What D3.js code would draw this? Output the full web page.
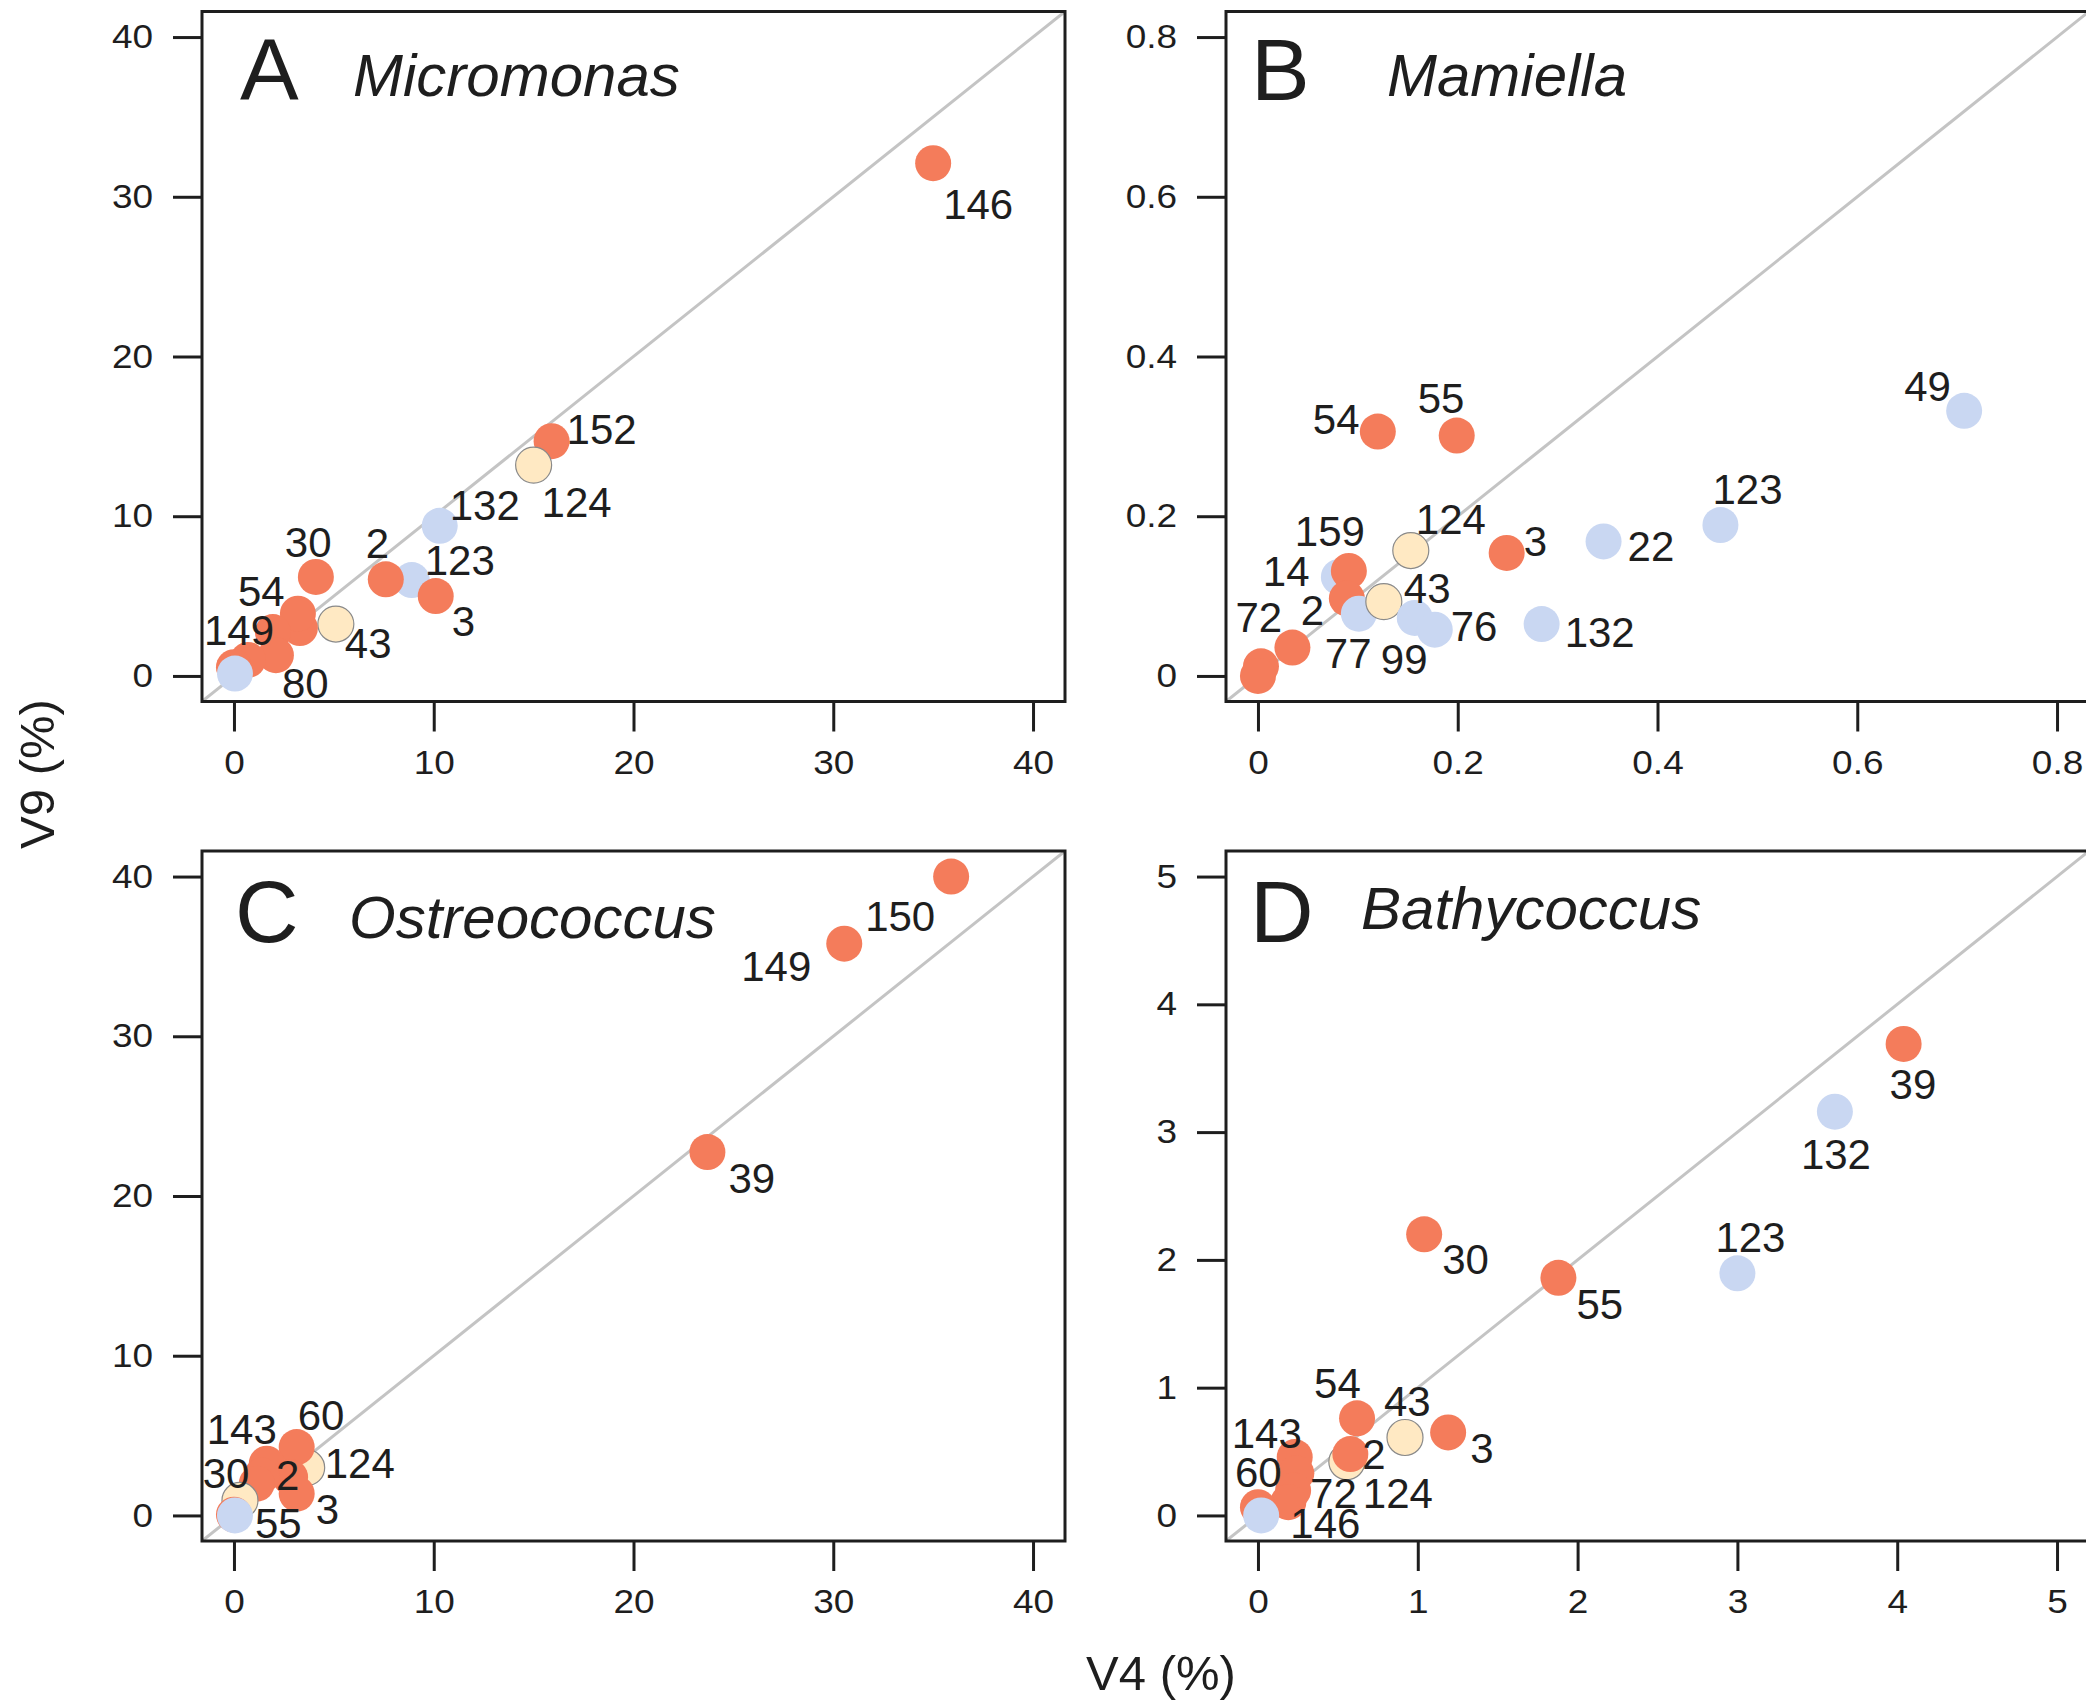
<!DOCTYPE html>
<html><head><meta charset="utf-8">
<script src="https://cdn.jsdelivr.net/npm/d3@7"></script>
<style>
body{margin:0;background:#fff}
svg{display:block}
text{font-family:"Liberation Sans",Arial,Helvetica,sans-serif;fill:#1e1e1e}
</style>
</head><body>
<svg id="chart" width="2086" height="1706"></svg>
<script>
// ---------------- DATA ----------------
// Panel A: Micromonas
const micromonasLabels = ["146","152","124","132","123","2","3","30","43","","54","","80","149","",""];
const micromonasV4     = [35.0, 15.9, 15.0, 10.3, 8.9, 7.6, 10.1, 4.1, 5.1, 3.3, 3.2, 1.95, 2.1, 0.7, 0.0, 0.05];
const micromonasV9     = [32.1, 14.7, 13.2, 9.4, 6.0, 6.05, 5.0, 6.2, 3.25, 3.0, 3.9, 2.75, 1.3, 1.0, 0.55, 0.15];
const micromonasGroup  = ["g1","g1","g3","g2","g2","g1","g1","g1","g3","g1","g1","g1","g1","g1","g1","g2"];

// Panel B: Mamiella
const mamiellaLabels = ["54","55","49","123","22","3","124","14","159","2","77","43","99","76","132","72","",""];
const mamiellaV4     = [0.120,0.199,0.707,0.463,0.346,0.249,0.153,0.081,0.091,0.089,0.101,0.126,0.157,0.177,0.284,0.0345,0.003,0.0];
const mamiellaV9     = [0.306,0.301,0.332,0.189,0.1685,0.154,0.157,0.124,0.1315,0.097,0.078,0.093,0.0726,0.058,0.065,0.0356,0.012,0.0];
const mamiellaGroup  = ["g1","g1","g2","g2","g2","g1","g3","g2","g1","g1","g2","g3","g2","g2","g2","g1","g1","g1"];

// Panel C: Ostreococcus
const ostreococcusLabels = ["150","149","39","124","60","143","2","","30","3","","55",""];
const ostreococcusV4     = [35.9, 30.55, 23.7, 3.64, 3.14, 1.64, 2.81, 1.4, 1.14, 3.14, 0.3, 0.0, 0.05];
const ostreococcusV9     = [40.0, 35.8, 22.75, 2.99, 4.28, 3.24, 2.40, 2.5, 1.99, 1.36, 0.94, 0.05, 0.0];
const ostreococcusGroup  = ["g1","g1","g1","g3","g1","g1","g1","g1","g1","g1","g3","g1","g2"];

// Panel D: Bathycoccus
const bathycoccusLabels = ["39","132","30","55","123","54","43","3","124","2","143","","72","146","60",""];
const bathycoccusV4     = [4.04, 3.61, 1.04, 1.88, 3.0, 0.62, 0.92, 1.19, 0.556, 0.578, 0.23, 0.24, 0.22, 0.19, 0.0, 0.02];
const bathycoccusV9     = [3.69, 3.16, 2.20, 1.86, 1.895, 0.76, 0.61, 0.65, 0.42, 0.48, 0.457, 0.33, 0.196, 0.104, 0.065, 0.0];
const bathycoccusGroup  = ["g1","g2","g1","g1","g2","g1","g3","g1","g3","g1","g1","g1","g1","g1","g1","g2"];

// Tick values
const ticksA = [0,10,20,30,40];
const ticksB = [0,0.2,0.4,0.6,0.8];
const ticksC = [0,10,20,30,40];
const ticksD = [0,1,2,3,4,5];

// ---------------- LAYOUT / STYLE ----------------
const W = 863, H = 690;
const groupFill = {g1:"#F47C5B", g2:"#C9D7F2", g3:"#FFE9C3"};
const groupStroke = {g1:"none", g2:"none", g3:"#8a8a8a"};

// label offsets (px) from point centre to text start/baseline
const labelOffsets = {
  A:{"146":[10,56],"152":[15,3],"124":[8,52],"132":[10,-6],"123":[13,-5],"2":[-20,-21],"3":[16,40],"30":[-31,-20],"43":[9,34],"54":[-60,-8],"80":[6,43],"149":[-44,-15]},
  B:{"54":[-65,2],"55":[-39,-23],"49":[-60,-10],"123":[-8,-21],"22":[24,20],"3":[17,3],"124":[5,-17],"159":[-54,-25],"14":[-76,9],"2":[-46,27],"43":[20,1],"72":[-57,-16],"77":[-34,54],"99":[-34,56],"76":[16,11],"132":[23,23]},
  C:{"150":[-86,54],"149":[-103,37],"39":[21,41],"60":[1,-17],"124":[18,10],"143":[-60,-20],"2":[-14,13],"3":[19,30],"30":[-54,4],"55":[21,23]},
  D:{"39":[-14,55],"132":[-34,57],"30":[18,40],"55":[18,41],"123":[-22,-21],"54":[-43,-20],"43":[-21,-22],"3":[22,31],"2":[12,15],"124":[16,46],"143":[-63,-9],"60":[-23,-20],"72":[17,18],"146":[2,36]}
};

const panels = [
  {key:"A", genus:"Micromonas", max:40, ticks:ticksA, labels:micromonasLabels, v4:micromonasV4, v9:micromonasV9, group:micromonasGroup,
   left:202, top:11.5, letter:[38,88], name:[151,84.5]},
  {key:"B", genus:"Mamiella", max:0.8, ticks:ticksB, labels:mamiellaLabels, v4:mamiellaV4, v9:mamiellaV9, group:mamiellaGroup,
   left:1226, top:11.5, letter:[25,88], name:[161,84.5]},
  {key:"C", genus:"Ostreococcus", max:40, ticks:ticksC, labels:ostreococcusLabels, v4:ostreococcusV4, v9:ostreococcusV9, group:ostreococcusGroup,
   left:202, top:851, letter:[33,91], name:[147,87]},
  {key:"D", genus:"Bathycoccus", max:5, ticks:ticksD, labels:bathycoccusLabels, v4:bathycoccusV4, v9:bathycoccusV9, group:bathycoccusGroup,
   left:1226, top:851, letter:[24,91], name:[135,78]}
];

const svg = d3.select("#chart");
svg.append("rect").attr("width",2086).attr("height",1706).attr("fill","#fff");

const fmt = v => v === 0 ? "0" : (Number.isInteger(v) ? String(v) : d3.format(".1f")(v));

panels.forEach(p => {
  const pad = p.max * 0.04;
  const x = d3.scaleLinear().domain([-pad, p.max + pad]).range([0, W]);
  const y = d3.scaleLinear().domain([-pad, p.max + pad]).range([H, 0]);
  const g = svg.append("g").attr("transform", `translate(${p.left},${p.top})`);

  const clipId = "clip" + p.key;
  g.append("clipPath").attr("id", clipId).append("rect").attr("width", W).attr("height", H);
  const plot = g.append("g").attr("clip-path", `url(#${clipId})`);

  // 1:1 line
  plot.append("line")
    .attr("x1", x(-pad)).attr("y1", y(-pad))
    .attr("x2", x(p.max + pad)).attr("y2", y(p.max + pad))
    .attr("stroke", "#c4c4c4").attr("stroke-width", 3);

  const pts = p.v4.map((v, i) => ({v4: v, v9: p.v9[i], label: p.labels[i], group: p.group[i]}));

  plot.selectAll("circle").data(pts).join("circle")
    .attr("cx", d => x(d.v4)).attr("cy", d => y(d.v9)).attr("r", 18)
    .attr("fill", d => groupFill[d.group])
    .attr("stroke", d => groupStroke[d.group]).attr("stroke-width", 1.2);

  // frame
  g.append("rect").attr("width", W).attr("height", H)
    .attr("fill", "none").attr("stroke", "#1e1e1e").attr("stroke-width", 3);

  // axes
  const yAxis = d3.axisLeft(y).tickValues(p.ticks).tickSize(29).tickPadding(20).tickFormat(fmt);
  const xAxis = d3.axisBottom(x).tickValues(p.ticks).tickSize(30).tickPadding(19).tickFormat(fmt);
  const ya = g.append("g").call(yAxis);
  const xa = g.append("g").attr("transform", `translate(0,${H})`).call(xAxis);
  [ya, xa].forEach(a => {
    a.select(".domain").remove();
    a.selectAll(".tick line").attr("stroke", "#1e1e1e").attr("stroke-width", 3);
    a.selectAll(".tick text").attr("font-size", 33).attr("fill", "#1e1e1e")
      .attr("font-family", "'Liberation Sans',Arial,sans-serif")
      .each(function() {
        const w = this.getComputedTextLength();
        d3.select(this).attr("textLength", w * 1.12).attr("lengthAdjust", "spacingAndGlyphs");
      });
  });

  // point labels
  const offs = labelOffsets[p.key];
  g.append("g").selectAll("text").data(pts.filter(d => d.label !== "")).join("text")
    .attr("x", d => x(d.v4) + offs[d.label][0])
    .attr("y", d => y(d.v9) + offs[d.label][1])
    .attr("font-size", 42)
    .text(d => d.label);

  // panel letter and genus
  g.append("text").attr("x", p.letter[0]).attr("y", p.letter[1]).attr("font-size", 88).text(p.key);
  g.append("text").attr("x", p.name[0]).attr("y", p.name[1]).attr("font-size", 60)
    .attr("font-style", "italic").text(p.genus);
});

// axis titles
svg.append("text").attr("x", 1161).attr("y", 1690).attr("text-anchor", "middle")
  .attr("font-size", 49).text("V4 (%)");
svg.append("text").attr("transform", "translate(54,774) rotate(-90)").attr("text-anchor", "middle")
  .attr("font-size", 49).text("V9 (%)");
</script>
</body></html>
